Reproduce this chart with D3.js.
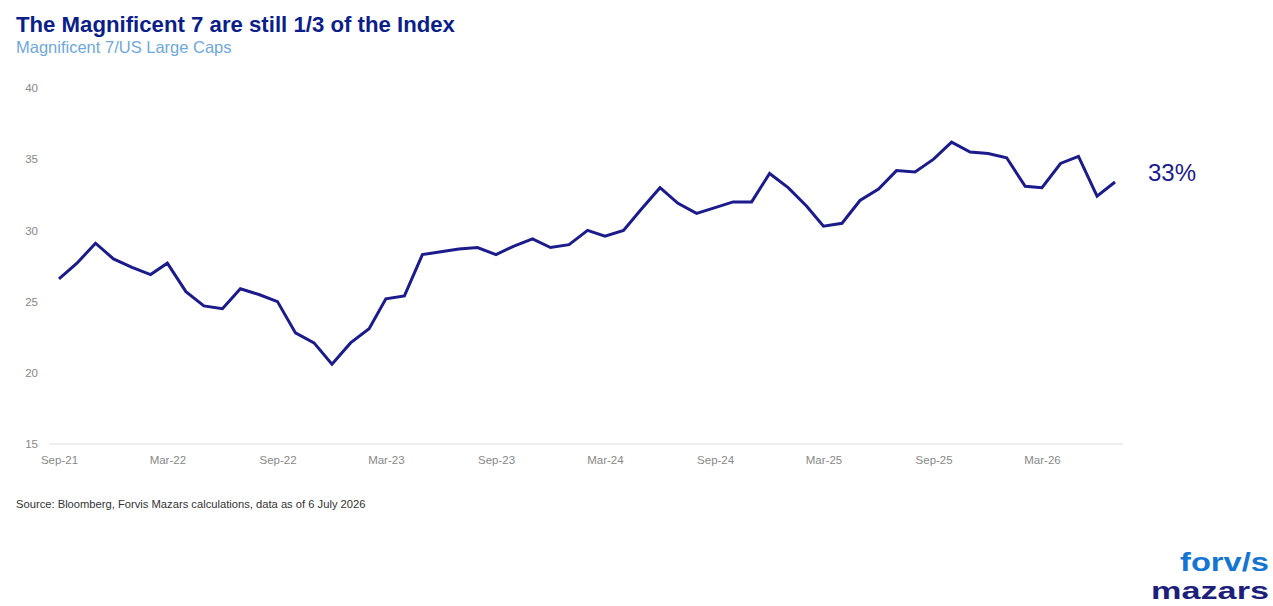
<!DOCTYPE html>
<html><head><meta charset="utf-8">
<script src="https://cdn.jsdelivr.net/npm/d3@7"></script>
<style>
body{margin:0;background:#fff;}
svg{display:block;font-family:"Liberation Sans",Arial,sans-serif;}
</style></head><body>
<svg id="chart" width="1273" height="606"></svg>
<script>
const months = ["2021-09","2021-10","2021-11","2021-12","2022-01","2022-02","2022-03","2022-04","2022-05","2022-06","2022-07","2022-08","2022-09","2022-10","2022-11","2022-12","2023-01","2023-02","2023-03","2023-04","2023-05","2023-06","2023-07","2023-08","2023-09","2023-10","2023-11","2023-12","2024-01","2024-02","2024-03","2024-04","2024-05","2024-06","2024-07","2024-08","2024-09","2024-10","2024-11","2024-12","2025-01","2025-02","2025-03","2025-04","2025-05","2025-06","2025-07","2025-08","2025-09","2025-10","2025-11","2025-12","2026-01","2026-02","2026-03","2026-04","2026-05","2026-06","2026-07"];
const share = [26.6,27.7,29.1,28.0,27.4,26.9,27.7,25.7,24.7,24.5,25.9,25.5,25.0,22.8,22.1,20.6,22.1,23.1,25.2,25.4,28.3,28.5,28.7,28.8,28.3,28.9,29.4,28.8,29.0,30.0,29.6,30.0,31.5,33.0,31.9,31.2,31.6,32.0,32.0,34.0,33.0,31.7,30.3,30.5,32.1,32.9,34.2,34.1,35.0,36.2,35.5,35.4,35.1,33.1,33.0,34.7,35.2,32.4,33.4];
const yTicks = [15,20,25,30,35,40];
const xTickMonths = ["2021-09","2022-03","2022-09","2023-03","2023-09","2024-03","2024-09","2025-03","2025-09","2026-03"];
const endLabel = "33%";
const title = "The Magnificent 7 are still 1/3 of the Index";
const subtitle = "Magnificent 7/US Large Caps";
const source = "Source: Bloomberg, Forvis Mazars calculations, data as of 6 July 2026";

const parse = d3.timeParse("%Y-%m");
const data = months.map((m,i)=>({date:parse(m), v:share[i]}));
const svg = d3.select("#chart");

const x = d3.scaleTime().domain([parse("2021-09"), parse("2026-07")]).range([59,1115]);
const y = d3.scaleLinear().domain([15,40]).range([444,88]);

svg.append("text").attr("x",16).attr("y",32).attr("fill","#0c1e8a")
  .attr("font-size",22.2).attr("font-weight","bold").text(title);
svg.append("text").attr("x",16).attr("y",53).attr("fill","#6fa8dc")
  .attr("font-size",16.5).text(subtitle);

// baseline
svg.append("line").attr("x1",49).attr("x2",1123).attr("y1",y(15)).attr("y2",y(15))
  .attr("stroke","#dcdcdc").attr("stroke-width",1);

// y ticks
const yAxis = svg.append("g").attr("transform","translate(38,0)")
  .call(d3.axisLeft(y).tickValues(yTicks).tickSize(0).tickPadding(0));
yAxis.select(".domain").remove();
yAxis.selectAll("text").attr("fill","#888").attr("font-size",11.5)
  .attr("font-family","'Liberation Sans Narrow','Liberation Sans',Arial,sans-serif");

// x ticks
const xAxis = svg.append("g").attr("transform","translate(0,456)")
  .call(d3.axisBottom(x).tickValues(xTickMonths.map(parse)).tickFormat(d3.timeFormat("%b-%y")).tickSize(0).tickPadding(0));
xAxis.select(".domain").remove();
xAxis.selectAll("text").attr("fill","#888").attr("font-size",11.5)
  .attr("font-family","'Liberation Sans Narrow','Liberation Sans',Arial,sans-serif");

// line
svg.append("path").datum(data)
  .attr("d", d3.line().x(d=>x(d.date)).y(d=>y(d.v)))
  .attr("fill","none").attr("stroke","#1b1b8c").attr("stroke-width",3).attr("stroke-linejoin","miter");

svg.append("text").attr("x",1148).attr("y",181).attr("fill","#1b1b8c")
  .attr("font-size",24).text(endLabel);

svg.append("text").attr("x",16).attr("y",508).attr("fill","#333")
  .attr("font-size",11.2).text(source);

// logo
svg.append("text").attr("x",1180).attr("y",571).attr("fill","#1476d2")
  .attr("font-size",25).attr("font-weight","bold").attr("textLength",89).attr("lengthAdjust","spacingAndGlyphs").text("forv/s");
svg.append("text").attr("x",1151).attr("y",599).attr("fill","#1d1f7a")
  .attr("font-size",24).attr("font-weight","bold").attr("textLength",118).attr("lengthAdjust","spacingAndGlyphs").text("mazars");
</script>
</body></html>
